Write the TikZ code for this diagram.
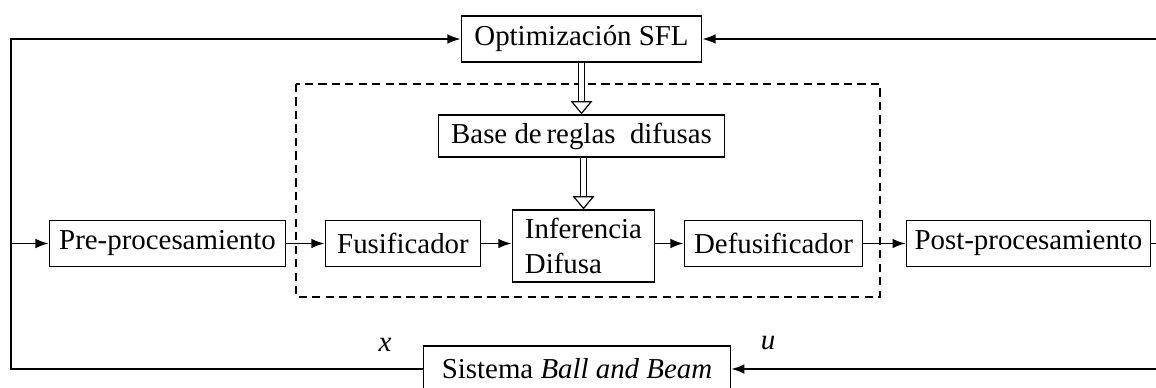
\documentclass[tikz,border=0pt,12pt]{standalone}
\usepackage{fontspec}
\setmainfont{Liberation Serif}
\usetikzlibrary{arrows.meta}
\tikzset{
  every picture/.style={
    line join=miter,
    >={Latex[length=5.5pt,width=4pt]},
  },
  blk/.style={draw, line width=0.6pt, minimum height=19pt, inner xsep=3pt, inner ysep=1pt},
  link/.style={->, line width=0.75pt},
  hollow/.style={double, double distance=2.2pt, line width=0.5pt,
    -{Triangle[open, length=5.5pt, width=9pt]}},
}

\begin{document}
\begin{tikzpicture}[x=0.0146cm,y=-0.0146cm]
\useasboundingbox (0,0) rectangle (1156,387);
% controller
\draw[dashed, line width=0.6pt, dash pattern=on 3.4pt off 2.2pt] (296,84) rectangle (880,297);
\node[blk, minimum width=99.8pt] (opt) at (581.5,39) {Optimización SFL};
\node[blk, minimum width=118.8pt, minimum height=17.4pt] (base) at (581.5,136) {Base de\,reglas\ \ difusas};
\node[blk, minimum width=98.1pt] (pre) at (167.5,243.5) {Pre-procesamiento};
\node[blk, minimum width=64.6pt] (fus) at (403,243.5) {Fusificador};
\node[blk, minimum width=59.2pt, minimum height=29.8pt, align=left] (inf) at (583.5,246) {Inferencia\\Difusa};
\node[blk, minimum width=74.1pt] (def) at (773.5,243.5) {Defusificador};
\node[blk, minimum width=101.4pt] (post) at (1028.5,243.5) {Post-procesamiento};
% plant
\node[blk, minimum width=127.5pt] (bb) at (577,369) {Sistema \textit{Ball and Beam}};
\node (lx) at (385,345) {\textit{x}};
\node (lu) at (768,343) {\textit{u}};
% loose ends
\coordinate (fb) at (11,39);
\coordinate (rt) at (1160,39);
\coordinate (rb) at (1160,367);
\coordinate (rm) at (1160,243.5);
% signal path
\draw[link] (pre.west -| fb) -- (pre.west);
\draw[link] (pre) -- (fus);
\draw[link] (fus) -- (fus -| inf.west);
\draw[link] (def -| inf.east) -- (def);
\draw[link] (def) -- (post);
\draw[line width=0.75pt] (post) -- (rm);
\draw[link] (bb.west) -| (fb) -- (opt.west);
\draw[link] (rt) -- (opt.east);
\draw[link] (rb |- bb) -- (bb.east);
% tuning
\draw[hollow] (opt.south) -- (base.north);
\draw[hollow] (base.south -| inf.north) -- (inf.north);
\end{tikzpicture}
\end{document}
